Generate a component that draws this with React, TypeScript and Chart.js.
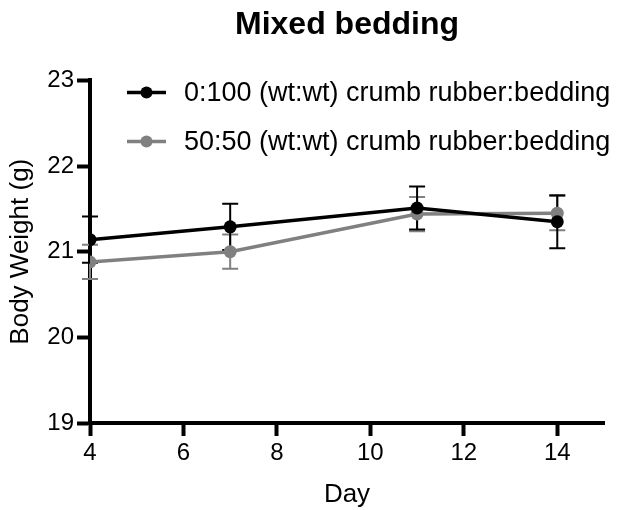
import React, { useEffect, useRef } from "react";
import { Chart, registerables } from "chart.js";

Chart.register(...registerables);

const days = [4, 7, 11, 14];
const controlMean = [21.14, 21.29, 21.51, 21.35];
const controlSem = [0.27, 0.27, 0.25, 0.31];
const mixedMean = [20.88, 21.0, 21.44, 21.45];
const mixedSem = [0.2, 0.2, 0.2, 0.2];
const seriesLabels = [
  "0:100 (wt:wt) crumb rubber:bedding",
  "50:50 (wt:wt) crumb rubber:bedding",
];
const seriesColors = ["#000000", "#808080"];
const yTickValues = [19, 20, 21, 22, 23];
const xTickValues = [4, 6, 8, 10, 12, 14];

const FONT = '"Liberation Sans", Arial, Helvetica, sans-serif';
const semLists = [controlSem, mixedSem];

const errorBarPlugin = {
  id: "errorBars",
  beforeDatasetsDraw(chart: any) {
    const ctx = chart.ctx;
    const yScale = chart.scales.y;
    ctx.save();
    for (let i = chart.data.datasets.length - 1; i >= 0; i--) {
      const meta = chart.getDatasetMeta(i);
      const ds = chart.data.datasets[i];
      const sems = semLists[i];
      ctx.strokeStyle = ds.borderColor;
      ctx.lineWidth = 2;
      meta.data.forEach((pt: any, j: number) => {
        const v = ds.data[j].y;
        const yTop = yScale.getPixelForValue(v + sems[j]);
        const yBot = yScale.getPixelForValue(v - sems[j]);
        const x = pt.x;
        const cap = 8;
        ctx.beginPath();
        ctx.moveTo(x, yTop);
        ctx.lineTo(x, yBot);
        ctx.moveTo(x - cap, yTop);
        ctx.lineTo(x + cap, yTop);
        ctx.moveTo(x - cap, yBot);
        ctx.lineTo(x + cap, yBot);
        ctx.stroke();
      });
    }
    ctx.restore();
  },
};

const legendPlugin = {
  id: "insideLegend",
  afterDatasetsDraw(chart: any) {
    const ctx = chart.ctx;
    const { left, top } = chart.chartArea;
    ctx.save();
    chart.data.datasets.forEach((ds: any, i: number) => {
      const y = top + 12 + i * 49;
      const x0 = left + 37;
      const x1 = left + 76;
      ctx.strokeStyle = ds.borderColor;
      ctx.lineWidth = 3.5;
      ctx.beginPath();
      ctx.moveTo(x0, y);
      ctx.lineTo(x1, y);
      ctx.stroke();
      ctx.fillStyle = ds.borderColor;
      ctx.beginPath();
      ctx.arc((x0 + x1) / 2, y, 6, 0, Math.PI * 2);
      ctx.fill();
      ctx.fillStyle = "#000";
      ctx.font = `27px ${FONT}`;
      ctx.textBaseline = "middle";
      ctx.textAlign = "left";
      ctx.fillText(ds.label, left + 94, y + 1);
    });
    ctx.restore();
  },
};

export default function App() {
  const canvasRef = useRef<HTMLCanvasElement | null>(null);

  useEffect(() => {
    if (!canvasRef.current) return;
    const means = [controlMean, mixedMean];
    const chart = new Chart(canvasRef.current, {
      type: "line",
      data: {
        datasets: means.map((m, i) => ({
          label: seriesLabels[i],
          data: days.map((d, j) => ({ x: d, y: m[j] })),
          borderColor: seriesColors[i],
          backgroundColor: seriesColors[i],
          pointBackgroundColor: seriesColors[i],
          pointBorderColor: seriesColors[i],
          pointBorderWidth: 0,
          pointRadius: 6.5,
          pointHoverRadius: 6.5,
          borderWidth: 3.5,
          tension: 0,
          fill: false,
        })),
      },
      options: {
        responsive: false,
        animation: false,
        devicePixelRatio: 1,
        layout: { padding: { left: 0, right: 17, top: 0, bottom: 0 } },
        plugins: {
          legend: { display: false },
          tooltip: { enabled: false },
          title: {
            display: true,
            text: "Mixed bedding",
            color: "#000",
            fullSize: false,
            font: { family: FONT, size: 32, weight: "bold" },
            padding: { top: 6, bottom: 36 },
          },
        },
        scales: {
          x: {
            type: "linear",
            min: 4,
            max: 15,
            afterBuildTicks: (scale: any) => {
              scale.ticks = xTickValues.map((v) => ({ value: v }));
            },
            afterFit: (scale: any) => {
              scale.height = 87;
            },
            ticks: {
              color: "#000",
              font: { family: FONT, size: 24 },
              padding: 3,
              maxRotation: 0,
            },
            grid: {
              display: true,
              drawOnChartArea: false,
              drawTicks: true,
              tickLength: 13,
              tickWidth: 4,
              tickColor: "#000",
            },
            border: { display: true, color: "#000", width: 4 },
            title: {
              display: true,
              text: "Day",
              color: "#000",
              font: { family: FONT, size: 26 },
              padding: { top: 0, bottom: 0 },
            },
          },
          y: {
            type: "linear",
            min: 19,
            max: 23,
            afterBuildTicks: (scale: any) => {
              scale.ticks = yTickValues.map((v) => ({ value: v }));
            },
            afterFit: (scale: any) => {
              scale.width = 90;
            },
            ticks: {
              color: "#000",
              font: { family: FONT, size: 24 },
              padding: 3,
            },
            grid: {
              display: true,
              drawOnChartArea: false,
              drawTicks: true,
              tickLength: 13,
              tickWidth: 4,
              tickColor: "#000",
            },
            border: { display: true, color: "#000", width: 4 },
            title: {
              display: true,
              text: "Body Weight (g)",
              color: "#000",
              font: { family: FONT, size: 26 },
              padding: { top: 5, bottom: 0 },
            },
          },
        },
      },
      plugins: [errorBarPlugin, legendPlugin],
    } as any);
    return () => chart.destroy();
  }, []);

  return (
    <div style={{ position: "absolute", left: 0, top: 0, width: 621, height: 510, background: "#fff" }}>
      <canvas ref={canvasRef} width={621} height={510} style={{ display: "block" }} />
    </div>
  );
}
